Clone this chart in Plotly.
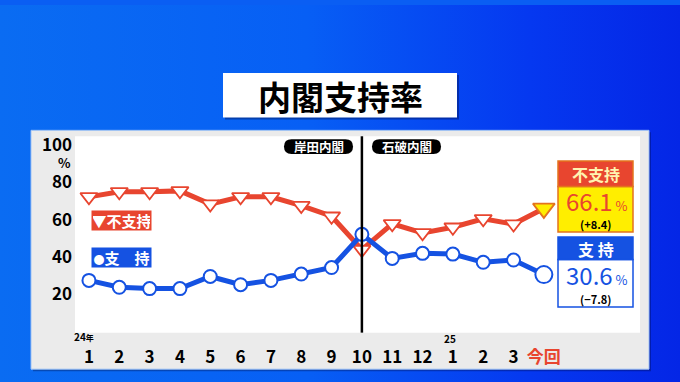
import base64
import plotly.graph_objects as go

# ---- data -------------------------------------------------------------
month_labels = ["1", "2", "3", "4", "5", "6", "7", "8", "9", "10", "11", "12",
                "1", "2", "3", "今回"]
disapprove = [72.3, 75.0, 75.0, 75.5, 68.4, 72.3, 72.3, 67.6, 61.9, 44.0,
              57.8, 53.0, 56.0, 60.5, 57.7, 66.1]
approve = [27.5, 23.8, 23.1, 23.1, 29.6, 25.2, 27.5, 30.9, 34.4, 52.2,
           39.3, 42.0, 41.6, 37.2, 38.4, 30.6]
y_ticks = [20, 40, 60, 80, 100]
cabinet_change_index = 9          # 2024年10月, 石破内閣発足
disapprove_change = "+8.4"
approve_change = "−7.8"

# ---- styling ----------------------------------------------------------
W, H = 680, 382
FONT = "Noto Sans CJK JP"
RED = "#e8452f"
BLUE = "#1552e2"
YELLOW = "#ffee00"
ORANGE = "#e4731d"


def px(x):
    return x / W


def py(y):
    return 1 - y / H


def rounded_path(x0, y0, x1, y1, r):
    """Rounded rectangle given in pixels, returned as a paper-space SVG path."""
    pts = [
        ("M", [(x0 + r, y0)]),
        ("L", [(x1 - r, y0)]),
        ("Q", [(x1, y0), (x1, y0 + r)]),
        ("L", [(x1, y1 - r)]),
        ("Q", [(x1, y1), (x1 - r, y1)]),
        ("L", [(x0 + r, y1)]),
        ("Q", [(x0, y1), (x0, y1 - r)]),
        ("L", [(x0, y0 + r)]),
        ("Q", [(x0, y0), (x0 + r, y0)]),
    ]
    parts = []
    for cmd, coords in pts:
        parts.append(cmd + " " + " ".join(f"{px(a):.5f},{py(b):.5f}" for a, b in coords))
    return " ".join(parts) + " Z"


x_idx = list(range(len(month_labels)))
n = len(x_idx)

fig = go.Figure()

# disapproval line
fig.add_trace(go.Scatter(
    x=x_idx, y=disapprove, mode="lines+markers",
    line=dict(color=RED, width=5),
    marker=dict(symbol="triangle-down", size=[15] * (n - 1) + [19],
                color=["#ffffff"] * (n - 1) + [YELLOW], opacity=1,
                line=dict(color=[RED] * (n - 1) + [ORANGE], width=1.8)),
    hoverinfo="skip",
))
# approval line
fig.add_trace(go.Scatter(
    x=x_idx, y=approve, mode="lines+markers",
    line=dict(color=BLUE, width=5),
    marker=dict(symbol="circle", size=[13] * (n - 1) + [17], color="#ffffff", opacity=1,
                line=dict(color=BLUE, width=2)),
    hoverinfo="skip",
))

# ---- background and panels -------------------------------------------
svg = (
    f"<svg xmlns='http://www.w3.org/2000/svg' width='{W}' height='{H}'>"
    "<defs><linearGradient id='g' x1='0' y1='0' x2='1' y2='0'>"
    "<stop offset='0' stop-color='#0a6cf2'/>"
    "<stop offset='0.45' stop-color='#075ff5'/>"
    "<stop offset='0.78' stop-color='#0538f0'/>"
    "<stop offset='1' stop-color='#0426e6'/>"
    "</linearGradient></defs>"
    f"<rect width='{W}' height='{H}' fill='url(#g)'/></svg>"
)
bg_uri = "data:image/svg+xml;base64," + base64.b64encode(svg.encode()).decode()

shapes = [
    # title card shadow + card
    dict(type="rect", xref="paper", yref="paper", x0=px(225), x1=px(459),
         y0=py(116), y1=py(71), fillcolor="rgba(0,0,40,0.35)", line_width=0, layer="below"),
    dict(type="rect", xref="paper", yref="paper", x0=px(223), x1=px(457),
         y0=py(114), y1=py(69), fillcolor="white", line_width=0, layer="below"),
    # chart panel shadow + grey panel + white plot area
    dict(type="rect", xref="paper", yref="paper", x0=px(33), x1=px(651),
         y0=py(371), y1=py(129), fillcolor="rgba(0,0,40,0.3)", line_width=0, layer="below"),
    dict(type="rect", xref="paper", yref="paper", x0=px(31), x1=px(649),
         y0=py(369), y1=py(127), fillcolor="#ebebeb",
         line=dict(color="#9fc3f5", width=1), layer="below"),
    dict(type="rect", xref="paper", yref="paper", x0=px(75), x1=px(640),
         y0=py(332), y1=py(133), fillcolor="white", line_width=0, layer="below"),
    # cabinet change marker
    dict(type="line", xref="x", yref="paper", x0=cabinet_change_index,
         x1=cabinet_change_index, y0=py(332), y1=py(133),
         line=dict(color="black", width=2.5)),
    # cabinet name pills
    dict(type="path", xref="paper", yref="paper", path=rounded_path(284, 136, 353, 151, 7.5),
         fillcolor="black", line_width=0),
    dict(type="path", xref="paper", yref="paper", path=rounded_path(372, 136, 441, 151, 7.5),
         fillcolor="black", line_width=0),
    # latest disapproval box
    dict(type="rect", xref="paper", yref="paper", x0=px(558), x1=px(633),
         y0=py(230), y1=py(184), fillcolor=YELLOW, line=dict(color=ORANGE, width=1.5)),
    dict(type="rect", xref="paper", yref="paper", x0=px(558), x1=px(633),
         y0=py(184), y1=py(158), fillcolor=RED, line=dict(color=ORANGE, width=1.5)),
    # latest approval box
    dict(type="rect", xref="paper", yref="paper", x0=px(558), x1=px(633),
         y0=py(306), y1=py(258), fillcolor="white", line=dict(color=BLUE, width=1.5)),
    dict(type="rect", xref="paper", yref="paper", x0=px(558), x1=px(633),
         y0=py(258), y1=py(235), fillcolor=BLUE, line=dict(color=BLUE, width=1.5)),
]


def note(x, y, text, size, color="black", bold=True, **kw):
    return dict(xref="paper", yref="paper", x=px(x), y=py(y), text=text,
                showarrow=False, xanchor=kw.pop("xanchor", "center"),
                yanchor=kw.pop("yanchor", "middle"),
                font=dict(family=FONT, size=size, color=color,
                          weight="bold" if bold else "normal"), **kw)


annotations = [
    note(340, 92, "内閣支持率", 33),
    note(318.5, 143.5, "岸田内閣", 12.5, "white"),
    note(406.5, 143.5, "石破内閣", 12.5, "white"),
    note(64, 160, "%", 13),
    note(121.5, 218, "▼不支持", 15, "white", bgcolor=RED, width=57, height=17, borderpad=1),
    note(121.5, 256, "<span style='font-size:11px'>●</span>支　持", 15, "white",
         bgcolor=BLUE, width=57, height=17, borderpad=1),
    note(595.5, 171.5, "不支持", 16, "#fff3b0"),
    note(597, 198.5, f"{disapprove[-1]}<span style='font-size:13px'> %</span>", 24, RED, bold=False),
    note(595.5, 221.5, f"({disapprove_change})", 11),
    note(595.5, 247, "支 持", 16, "white"),
    note(597, 273.5, f"{approve[-1]}<span style='font-size:13px'> %</span>", 24, BLUE, bold=False),
    note(595.5, 297.5, f"({approve_change})", 11),
    dict(xref="x", yref="paper", x=0, y=py(336), yanchor="middle",
         text="24<span style='font-size:8px'>年</span>",
         showarrow=False, xshift=-5,
         font=dict(family=FONT, size=10, color="black", weight="bold")),
    dict(xref="x", yref="paper", x=12, y=py(337.5), yanchor="middle", text="25",
         showarrow=False, xshift=-3,
         font=dict(family=FONT, size=10, color="black", weight="bold")),
]

tick_text = [f"<span style='color:{RED}'>{t}</span>" if t == "今回" else t
             for t in month_labels]

fig.update_layout(
    width=W, height=H,
    margin=dict(l=0, r=0, t=0, b=0),
    paper_bgcolor="#0a5ef3",
    plot_bgcolor="rgba(0,0,0,0)",
    showlegend=False,
    images=[dict(source=bg_uri, xref="paper", yref="paper", x=0, y=1,
                 sizex=1, sizey=1, sizing="stretch", layer="below")],
    shapes=shapes,
    annotations=annotations,
    xaxis=dict(domain=[px(75), px(640)], range=[-0.46, 18.17],
               tickvals=x_idx, ticktext=tick_text, showgrid=False, zeroline=False,
               showline=False, ticks="", ticklabelstandoff=12,
               tickfont=dict(family=FONT, size=17, color="black", weight="bold")),
    yaxis=dict(domain=[py(332), py(133)], range=[-0.53, 104.8],
               tickvals=y_ticks, ticktext=[str(v) for v in y_ticks],
               showgrid=False, zeroline=False, showline=False, ticks="",
               ticklabelstandoff=2,
               tickfont=dict(family=FONT, size=17, color="black", weight="bold")),
)

fig.write_html("out.html")
